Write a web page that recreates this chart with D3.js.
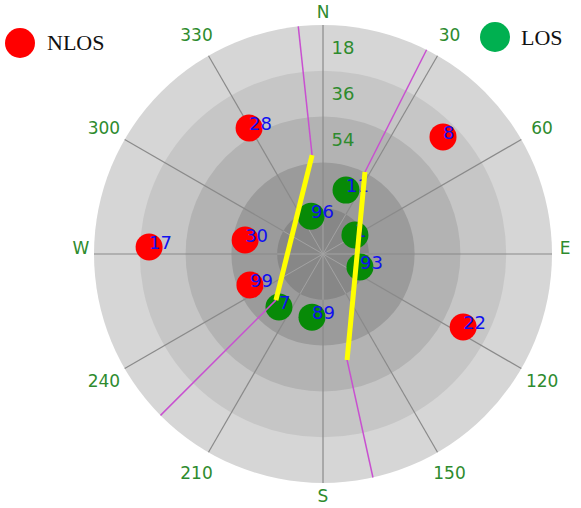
<!DOCTYPE html>
<html>
<head>
<meta charset="utf-8">
<script src="https://cdn.jsdelivr.net/npm/d3@7"></script>
<style>
  body { margin: 0; background: #fff; }
  svg { display: block; }
</style>
</head>
<body>
<div class="chart"></div>
<script>
// sky plot data (azimuth deg clockwise from N, elevation deg)
var nlosPrn = ["28", "17", "30", "99", "8", "22"];
var nlosAz = [329.6, 272.3, 280.2, 247.0, 45.7, 117.5];
var nlosEl = [32.6, 21.6, 58.9, 58.8, 24.1, 27.9];

var losPrn = ["11", "96", "1", "93", "7", "89"];
var losAz = [19.8, 342.5, 59.3, 109.4, 219.7, 189.9];
var losEl = [63.3, 74.4, 75.4, 74.6, 62.9, 64.8];

// building edges: magenta part to horizon, yellow part is the visible edge
var leftEdgeAz = [353.8, 353.7, 225.6, 225.2];
var leftEdgeEl = [0, 50.9, 64.1, 0];
var rightEdgeAz = [26.9, 27.1, 167.2, 167.4];
var rightEdgeEl = [0, 53.8, 47.3, 0];

var azTicks = [0, 30, 60, 90, 120, 150, 180, 210, 240, 270, 300, 330];
var azLabels = ["N", "30", "60", "E", "120", "150", "S", "210", "240", "W", "300", "330"];
var elRings = [0, 18, 36, 54, 72];
var elLabels = ["18", "36", "54"];

var svgWidth = 581;
var svgHeight = 508;
var cx = 323, cy = 254, R = 229;

var svg = d3.select(".chart")
  .append("svg")
  .attr("width", svgWidth)
  .attr("height", svgHeight);

var g = svg.append("g")
  .attr("transform", `translate(${cx}, ${cy})`);

var rScale = d3.scaleLinear().domain([90, 0]).range([0, R]);
var aScale = d3.scaleLinear().domain([0, 360]).range([0, 2 * Math.PI]);

function px(az, el) { return rScale(el) * Math.sin(aScale(az)); }
function py(az, el) { return -rScale(el) * Math.cos(aScale(az)); }

// bands
var bandColors = ["#d6d6d6", "#c6c6c6", "#b3b3b3", "#9b9b9b", "#878787"];
g.selectAll("circle.band")
  .data(elRings)
  .enter()
  .append("circle")
  .attr("class", "band")
  .attr("r", d => rScale(d))
  .attr("fill", (d, i) => bandColors[i]);

// spokes
g.selectAll("line.spoke")
  .data(azTicks)
  .enter()
  .append("line")
  .attr("x1", 0).attr("y1", 0)
  .attr("x2", d => px(d, 0))
  .attr("y2", d => py(d, 0))
  .attr("stroke", "#8a8a8a")
  .attr("stroke-width", 1.2);

// lighter spokes inside the inner disk
g.selectAll("line.inner")
  .data(azTicks)
  .enter()
  .append("line")
  .attr("x1", 0).attr("y1", 0)
  .attr("x2", d => px(d, 72))
  .attr("y2", d => py(d, 72))
  .attr("stroke", "#a2a2a2")
  .attr("stroke-width", 1);

// azimuth labels
function labR(i) { return R + (azLabels[i].length == 1 ? 13 : 24); }
g.selectAll("text.az")
  .data(azTicks)
  .enter()
  .append("text")
  .attr("x", (d, i) => Math.sin(aScale(d)) * labR(i))
  .attr("y", (d, i) => -Math.cos(aScale(d)) * labR(i)
    - (azLabels[i].length == 1 ? 6 * Math.abs(Math.sin(aScale(d))) : 0))
  .attr("text-anchor", "middle")
  .attr("dominant-baseline", "central")
  .attr("font-family", "DejaVu Sans")
  .attr("font-size", 17)
  .attr("fill", "#2e8b2e")
  .text((d, i) => azLabels[i]);

// elevation labels
g.selectAll("text.el")
  .data(elLabels)
  .enter()
  .append("text")
  .attr("x", 20)
  .attr("y", d => -rScale(+d - 9))
  .attr("text-anchor", "middle")
  .attr("dominant-baseline", "central")
  .attr("font-family", "DejaVu Sans")
  .attr("font-size", 18)
  .attr("fill", "#2e8b2e")
  .text(d => d);

// satellites
function drawSats(prn, az, el, color) {
  var sats = g.append("g");
  sats.selectAll("circle")
    .data(prn)
    .enter()
    .append("circle")
    .attr("cx", (d, i) => px(az[i], el[i]))
    .attr("cy", (d, i) => py(az[i], el[i]))
    .attr("r", 13.5)
    .attr("fill", color);
  sats.selectAll("text")
    .data(prn)
    .enter()
    .append("text")
    .attr("x", (d, i) => px(az[i], el[i]))
    .attr("y", (d, i) => py(az[i], el[i]) + 2)
    .attr("font-family", "DejaVu Sans")
    .attr("font-size", 18)
    .attr("fill", "#1010f0")
    .text(d => d);
}
drawSats(nlosPrn, nlosAz, nlosEl, "#ff0000");
drawSats(losPrn, losAz, losEl, "#078a07");

// building edge lines
function drawEdge(az, el) {
  var pts = az.map((a, i) => [px(a, el[i]), py(a, el[i])]);
  var line = d3.line();
  g.append("path")
    .attr("d", line([pts[0], pts[1]]))
    .attr("stroke", "#c850d0").attr("stroke-width", 1.5).attr("fill", "none");
  g.append("path")
    .attr("d", line([pts[2], pts[3]]))
    .attr("stroke", "#c850d0").attr("stroke-width", 1.5).attr("fill", "none");
  g.append("path")
    .attr("d", line([pts[1], pts[2]]))
    .attr("stroke", "#ffff00").attr("stroke-width", 5).attr("fill", "none");
}
drawEdge(leftEdgeAz, leftEdgeEl);
drawEdge(rightEdgeAz, rightEdgeEl);

// legend
var legend = [
  { name: "NLOS", color: "#ff0000", x: 20, y: 43, tx: 47, ty: 50 },
  { name: "LOS", color: "#00b050", x: 495, y: 37, tx: 521, ty: 45 }
];
legend.forEach(function(l) {
  svg.append("circle")
    .attr("cx", l.x).attr("cy", l.y).attr("r", 15)
    .attr("fill", l.color);
  svg.append("text")
    .attr("x", l.tx).attr("y", l.ty)
    .attr("font-family", "Liberation Serif")
    .attr("font-size", 22)
    .attr("fill", "#111")
    .text(l.name);
});
</script>
</body>
</html>
